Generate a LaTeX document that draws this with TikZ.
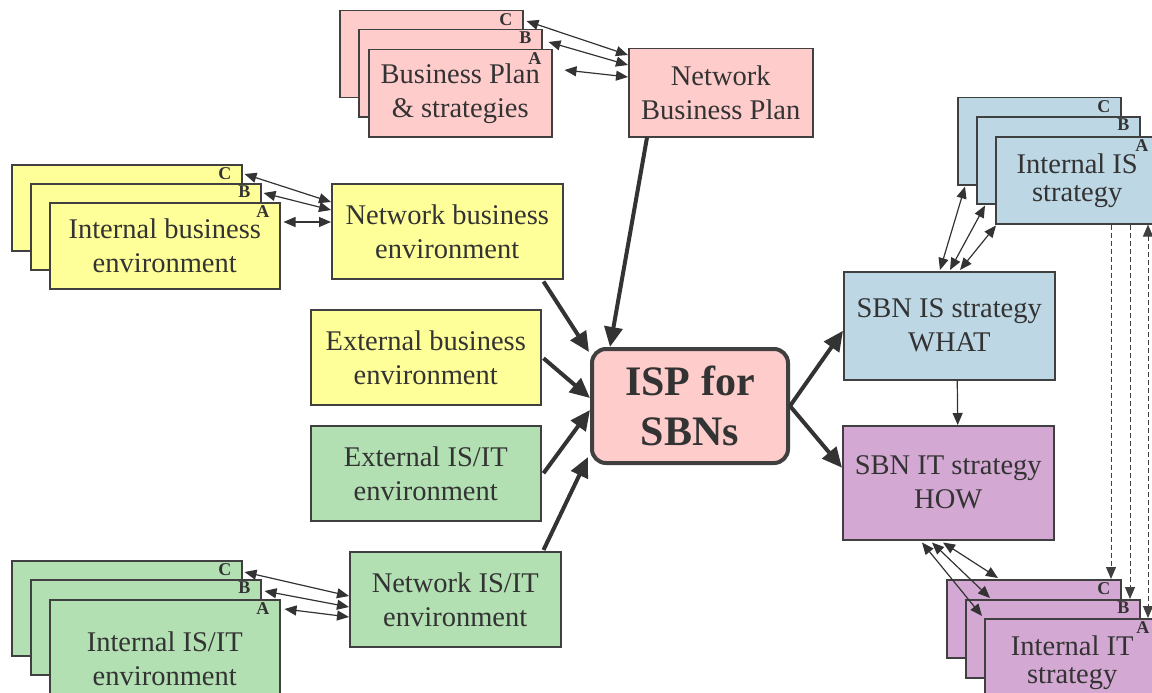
\documentclass[tikz,border=0pt]{standalone}
\usepackage{fontspec}
\setmainfont{Liberation Serif}
\usepackage{tikz}
\usetikzlibrary{arrows.meta,calc}
\definecolor{planPink}{HTML}{FFCCCC}
\definecolor{bizYellow}{HTML}{FFFF99}
\definecolor{itGreen}{HTML}{B3E0B3}
\definecolor{isBlue}{HTML}{BDD7E4}
\definecolor{itPurple}{HTML}{D3A8D3}
\definecolor{lineGray}{HTML}{404040}
\definecolor{textGray}{HTML}{333333}

\begin{document}
\begin{tikzpicture}[x=1pt,y=-1pt,
  box/.style={draw=lineGray,line width=1.5pt,anchor=north west,align=center,text=textGray,inner sep=0pt,font=\fontsize{28.5}{34}\selectfont},
  tag/.style={anchor=north east,inner sep=0pt,text=textGray,font=\fontsize{18}{18}\selectfont\bfseries},
  flow/.style={draw=textGray,line width=4pt,-{Triangle[length=20pt,width=18pt]}},
  twoway/.style={draw=textGray,line width=1.2pt,{Triangle[length=12pt,width=10pt]}-{Triangle[length=12pt,width=10pt]}},
  link/.style={draw=textGray,line width=1.2pt,-{Triangle[length=12pt,width=10pt]}},
  dashlink/.style={draw=lineGray,line width=1pt,dash pattern=on 5pt off 3pt,-{Triangle[length=12pt,width=10pt]}}]
\useasboundingbox (0,0) rectangle (1152,693);
\clip (0,0) rectangle (1152,693);

% stacks A/B/C
\foreach \l/\x/\y in {C/339/10,B/358/29}
  \node[box,fill=planPink,minimum width=183pt,minimum height=87pt] (bp\l) at (\x,\y) {};
\node[box,fill=planPink,minimum width=183pt,minimum height=87pt] (bpA) at (368,49) {Business Plan\\\& strategies};
\foreach \l/\x/\y in {C/11/164,B/30/183}
  \node[box,fill=bizYellow,minimum width=230pt,minimum height=86pt] (ib\l) at (\x,\y) {};
\node[box,fill=bizYellow,minimum width=230pt,minimum height=86pt] (ibA) at (49,202) {Internal business\\environment};
\foreach \l/\x/\y in {C/11/560,B/30/579}
  \node[box,fill=itGreen,minimum width=230pt,minimum height=95pt] (ii\l) at (\x,\y) {};
\node[box,fill=itGreen,minimum width=230pt,minimum height=118pt] (iiA) at (49,599) {Internal IS/IT\\environment};
\foreach \l/\x/\y in {C/957/97,B/976/116}
  \node[box,fill=isBlue,minimum width=163pt,minimum height=87pt] (is\l) at (\x,\y) {};
\node[box,fill=isBlue,minimum width=163pt,minimum height=87pt,font=\fontsize{28.5}{28}\selectfont] (isA) at (995,136) {Internal IS\\strategy};
\foreach \l/\x/\y in {C/946/579,B/965/599}
  \node[box,fill=itPurple,minimum width=174pt,minimum height=78pt] (it\l) at (\x,\y) {};
\node[box,fill=itPurple,minimum width=175pt,minimum height=87pt,font=\fontsize{28.5}{28}\selectfont] (itA) at (984,618) {Internal IT\\strategy};
\foreach \s in {bp,ib,ii,is,it}
  \foreach \l in {C,B,A}
    \node[tag] (\s tag\l) at ($(\s\l.north east)+(-11,3)$) {\l};

% single boxes
\node[box,fill=planPink,minimum width=184pt,minimum height=88pt] (nbp) at (628,48) {Network\\Business Plan};
\node[box,fill=bizYellow,minimum width=231pt,minimum height=95pt] (nbe) at (331,183) {Network business\\environment};
\node[box,fill=bizYellow,minimum width=230pt,minimum height=95pt] (ebe) at (310,309) {External business\\environment};
\node[box,fill=itGreen,minimum width=230pt,minimum height=95pt] (eite) at (310,425) {External IS/IT\\environment};
\node[box,fill=itGreen,minimum width=211pt,minimum height=95pt] (nite) at (349,551) {Network IS/IT\\environment};
\node[box,fill=isBlue,minimum width=211pt,minimum height=108pt] (sbnis) at (843,271) {SBN IS strategy\\WHAT};
\node[box,fill=itPurple,minimum width=211pt,minimum height=114pt] (sbnit) at (842,425) {SBN IT strategy\\HOW};
\node[box,fill=planPink,line width=4pt,rounded corners=14pt,minimum width=196pt,minimum height=114pt,font=\fontsize{42}{50}\selectfont\bfseries] (isp) at (590,347) {ISP for\\SBNs};

% main flows
\draw[flow] ($(nbp.south west)+(19,0)$) -- ($(isp.north west)+(20,0)$);
\draw[flow] ($(nbe.south east)+(-20,2)$) -- ($(isp.north west)+(-1,5)$);
\draw[flow] ($(ebe.east)+(2,1)$) -- ($(isp.west)+(0,-8)$);
\draw[flow] ($(eite.east)+(2,0)$) -- ($(isp.west)+(0,4)$);
\draw[flow] ($(nite.north east)+(-18,-1)$) -- ($(isp.south west)+(-2,-8)$);
\draw[flow] (isp.east) -- ($(sbnis.west)+(0,5)$);
\draw[flow] (isp.east) -- ($(sbnit.west)+(0,-15)$);
\draw[link] ($(sbnis.south)+(8,0)$) -- ($(sbnit.north)+(9.5,0)$);

% A/B/C links
\draw[twoway] ($(bpC.north east)+(3,11)$) -- ($(nbp.north west)+(0,7)$);
\draw[twoway] ($(bpB.north east)+(6,13)$) -- ($(nbp.north west)+(0,17)$);
\draw[twoway] ($(bpA.north east)+(12,21)$) -- ($(nbp.north west)+(0,29)$);
\foreach \l/\dx/\dy/\ey in {C/2/10/19,B/2/10/27,A/3/20/39}
  \draw[twoway] ($(ib\l.north east)+(\dx,\dy)$) -- ($(nbe.north west)+(0,\ey)$);
\foreach \l/\dx/\dy/\ey in {C/2/12/45,B/3/12/56,A/4/10/66}
  \draw[twoway] ($(ii\l.north east)+(\dx,\dy)$) -- ($(nite.north west)+(0,\ey)$);
\foreach \l/\dx/\dy/\ex in {C/8/1/97,B/9/1/107,A/1/1/117}
  \draw[twoway] ($(is\l.south west)+(\dx,\dy)$) -- ($(sbnis.north west)+(\ex,-1)$);
\foreach \l/\dx/\dy/\ex in {C/52/-1/101,B/25/-1/90,A/-2/-2/80}
  \draw[twoway] ($(it\l.north west)+(\dx,\dy)$) -- ($(sbnit.south west)+(\ex,2)$);
\draw[dashlink] ($(isA.south west)+(116,0)$) -- ($(itC.north west)+(165,0)$);
\draw[dashlink] ($(isA.south west)+(135,0)$) -- ($(itB.north west)+(165,0)$);
\draw[dashlink,{Triangle[length=12pt,width=10pt]}-{Triangle[length=12pt,width=10pt]}] ($(isA.south west)+(153,0)$) -- ($(itA.north west)+(164,0)$);
\end{tikzpicture}
\end{document}
